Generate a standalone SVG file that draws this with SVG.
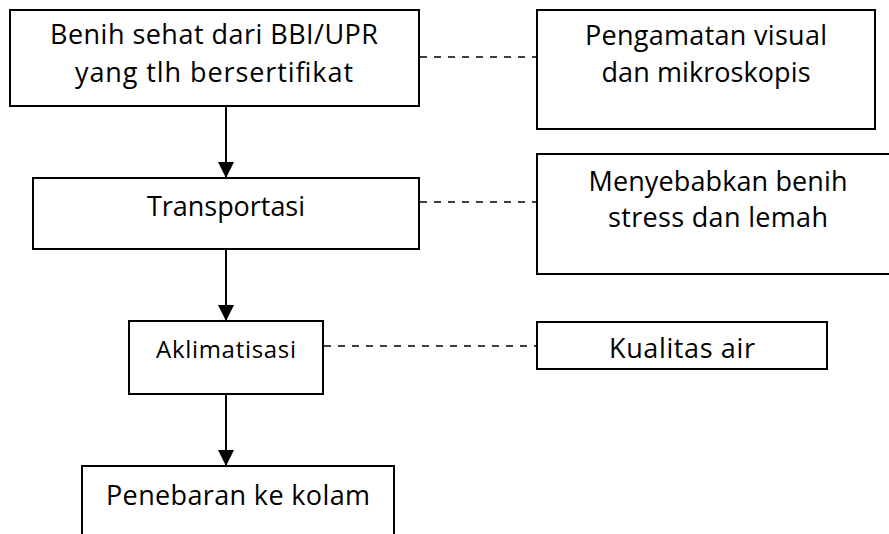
<svg xmlns="http://www.w3.org/2000/svg" width="889" height="534" viewBox="0 0 889 534">
  <style>
    .box { fill: #ffffff; stroke: #000000; stroke-width: 2; }
    .lbl { font-family: "Open Sans", "DejaVu Sans", sans-serif; font-size: 27px; fill: #000000; text-anchor: middle; }
    .sm { font-size: 24px; }
    .flow { stroke: #000000; stroke-width: 2; fill: none; }
    .dash { stroke: #000000; stroke-width: 1.6; stroke-dasharray: 7 7; fill: none; }
  </style>
  <defs>
    <marker id="head" markerUnits="userSpaceOnUse" markerWidth="16" markerHeight="16" viewBox="0 0 16 16" refX="16" refY="8" orient="auto">
      <path d="M0,0 L16,8 L0,16 Z" fill="#000000"/>
    </marker>
  </defs>
  <rect width="889" height="534" fill="#ffffff"/>

  <!-- connectors -->
  <g id="connectors">
    <line class="flow" x1="226" y1="106" x2="226" y2="178" marker-end="url(#head)"/>
    <line class="flow" x1="226" y1="249" x2="226" y2="321" marker-end="url(#head)"/>
    <line class="flow" x1="226" y1="394" x2="226" y2="466" marker-end="url(#head)"/>
    <line class="dash" x1="420" y1="57" x2="537" y2="57"/>
    <line class="dash" x1="420" y1="202" x2="537" y2="202"/>
    <line class="dash" x1="324" y1="346" x2="537" y2="346"/>
  </g>

  <!-- main flow -->
  <g id="benih">
    <rect class="box" x="10" y="10" width="409" height="96"/>
    <text class="lbl" x="214" y="44" textLength="328">Benih sehat dari BBI/UPR</text>
    <text class="lbl" x="214" y="82" textLength="278">yang tlh bersertifikat</text>
  </g>
  <g id="transportasi">
    <rect class="box" x="33" y="178" width="386" height="71"/>
    <text class="lbl" x="226" y="216" textLength="158">Transportasi</text>
  </g>
  <g id="aklimatisasi">
    <rect class="box" x="129" y="321" width="194" height="73"/>
    <text class="lbl sm" x="226" y="358" textLength="140">Aklimatisasi</text>
  </g>
  <g id="penebaran">
    <rect class="box" x="82" y="466" width="312" height="80"/>
    <text class="lbl" x="238" y="505" textLength="264">Penebaran ke kolam</text>
  </g>

  <!-- side notes -->
  <g id="pengamatan">
    <rect class="box" x="537" y="10" width="338" height="119"/>
    <text class="lbl" x="706" y="45" textLength="242">Pengamatan visual</text>
    <text class="lbl" x="706" y="82" textLength="209">dan mikroskopis</text>
  </g>
  <g id="stress">
    <rect class="box" x="537" y="154" width="362" height="120"/>
    <text class="lbl" x="718" y="191" textLength="259">Menyebabkan benih</text>
    <text class="lbl" x="718" y="227" textLength="220">stress dan lemah</text>
  </g>
  <g id="kualitas">
    <rect class="box" x="537" y="322" width="290" height="47"/>
    <text class="lbl" x="682" y="358" textLength="146">Kualitas air</text>
  </g>
</svg>
